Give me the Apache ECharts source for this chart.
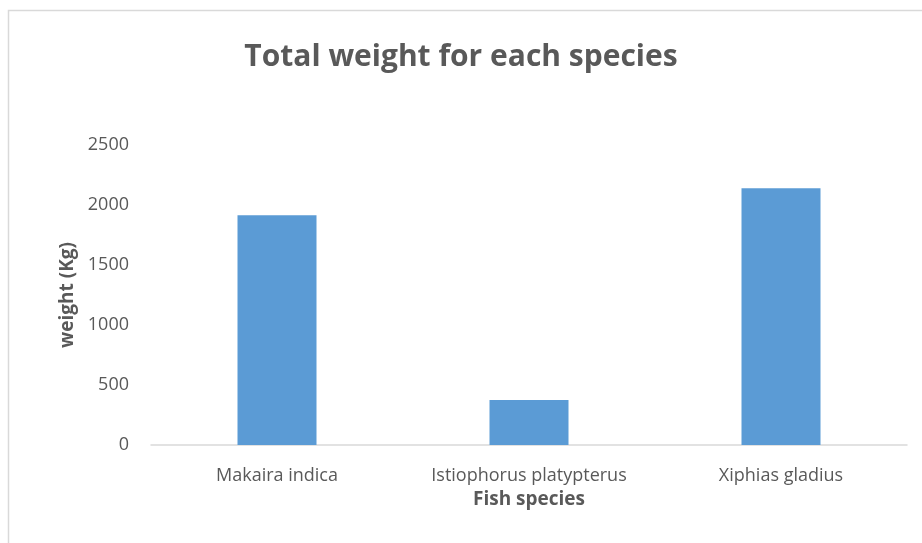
<!DOCTYPE html>
<html>
<head>
<meta charset="utf-8">
<script src="https://cdn.jsdelivr.net/npm/echarts@6/dist/echarts.min.js"></script>
<style>
html,body{margin:0;padding:0;background:#fff;}
#chart{width:922px;height:543px;}
</style>
</head>
<body>
<div id="chart"></div>
<script>
const categories = ['Makaira indica', 'Istiophorus platypterus', 'Xiphias gladius'];
const weights = [1915, 375, 2140];
const yTicks = [0, 500, 1000, 1500, 2000, 2500];

const FONT = '"Open Sans", "Noto Sans", sans-serif';
const chart = echarts.init(document.getElementById('chart'));
chart.setOption({
  backgroundColor: '#ffffff',
  animation: false,
  graphic: [{
    type: 'rect',
    shape: { x: 8.5, y: 10.5, width: 940, height: 600 },
    style: { fill: 'none', stroke: '#d9d9d9', lineWidth: 1.5 },
    silent: true
  }],
  title: {
    text: 'Total weight for each species',
    left: 'center',
    top: 37,
    textStyle: { fontFamily: FONT, fontSize: 30, fontWeight: 'bold', color: '#595959' }
  },
  grid: { left: 151, right: 15, top: 145, bottom: 98 },
  xAxis: {
    type: 'category',
    data: categories,
    name: 'Fish species',
    nameLocation: 'middle',
    nameGap: 44,
    nameTextStyle: { fontFamily: FONT, fontSize: 19, fontWeight: 'bold', color: '#595959' },
    axisLine: { lineStyle: { color: '#d9d9d9', width: 1.5 } },
    axisTick: { show: false },
    axisLabel: { interval: 0, hideOverlap: false, fontFamily: FONT, fontSize: 18, color: '#595959', margin: 22 }
  },
  yAxis: {
    type: 'value',
    min: yTicks[0],
    max: yTicks[yTicks.length - 1],
    interval: 500,
    name: 'weight (Kg)',
    nameLocation: 'middle',
    nameGap: 67,
    nameTextStyle: { fontFamily: FONT, fontSize: 19, fontWeight: 'bold', color: '#595959' },
    axisLine: { show: false },
    axisTick: { show: false },
    splitLine: { show: false },
    axisLabel: { fontFamily: FONT, fontSize: 18, color: '#595959', margin: 22, formatter: v => String(v) }
  },
  series: [{
    type: 'bar',
    data: weights,
    barWidth: 79,
    itemStyle: { color: '#5b9bd5' }
  }]
});
</script>
</body>
</html>
